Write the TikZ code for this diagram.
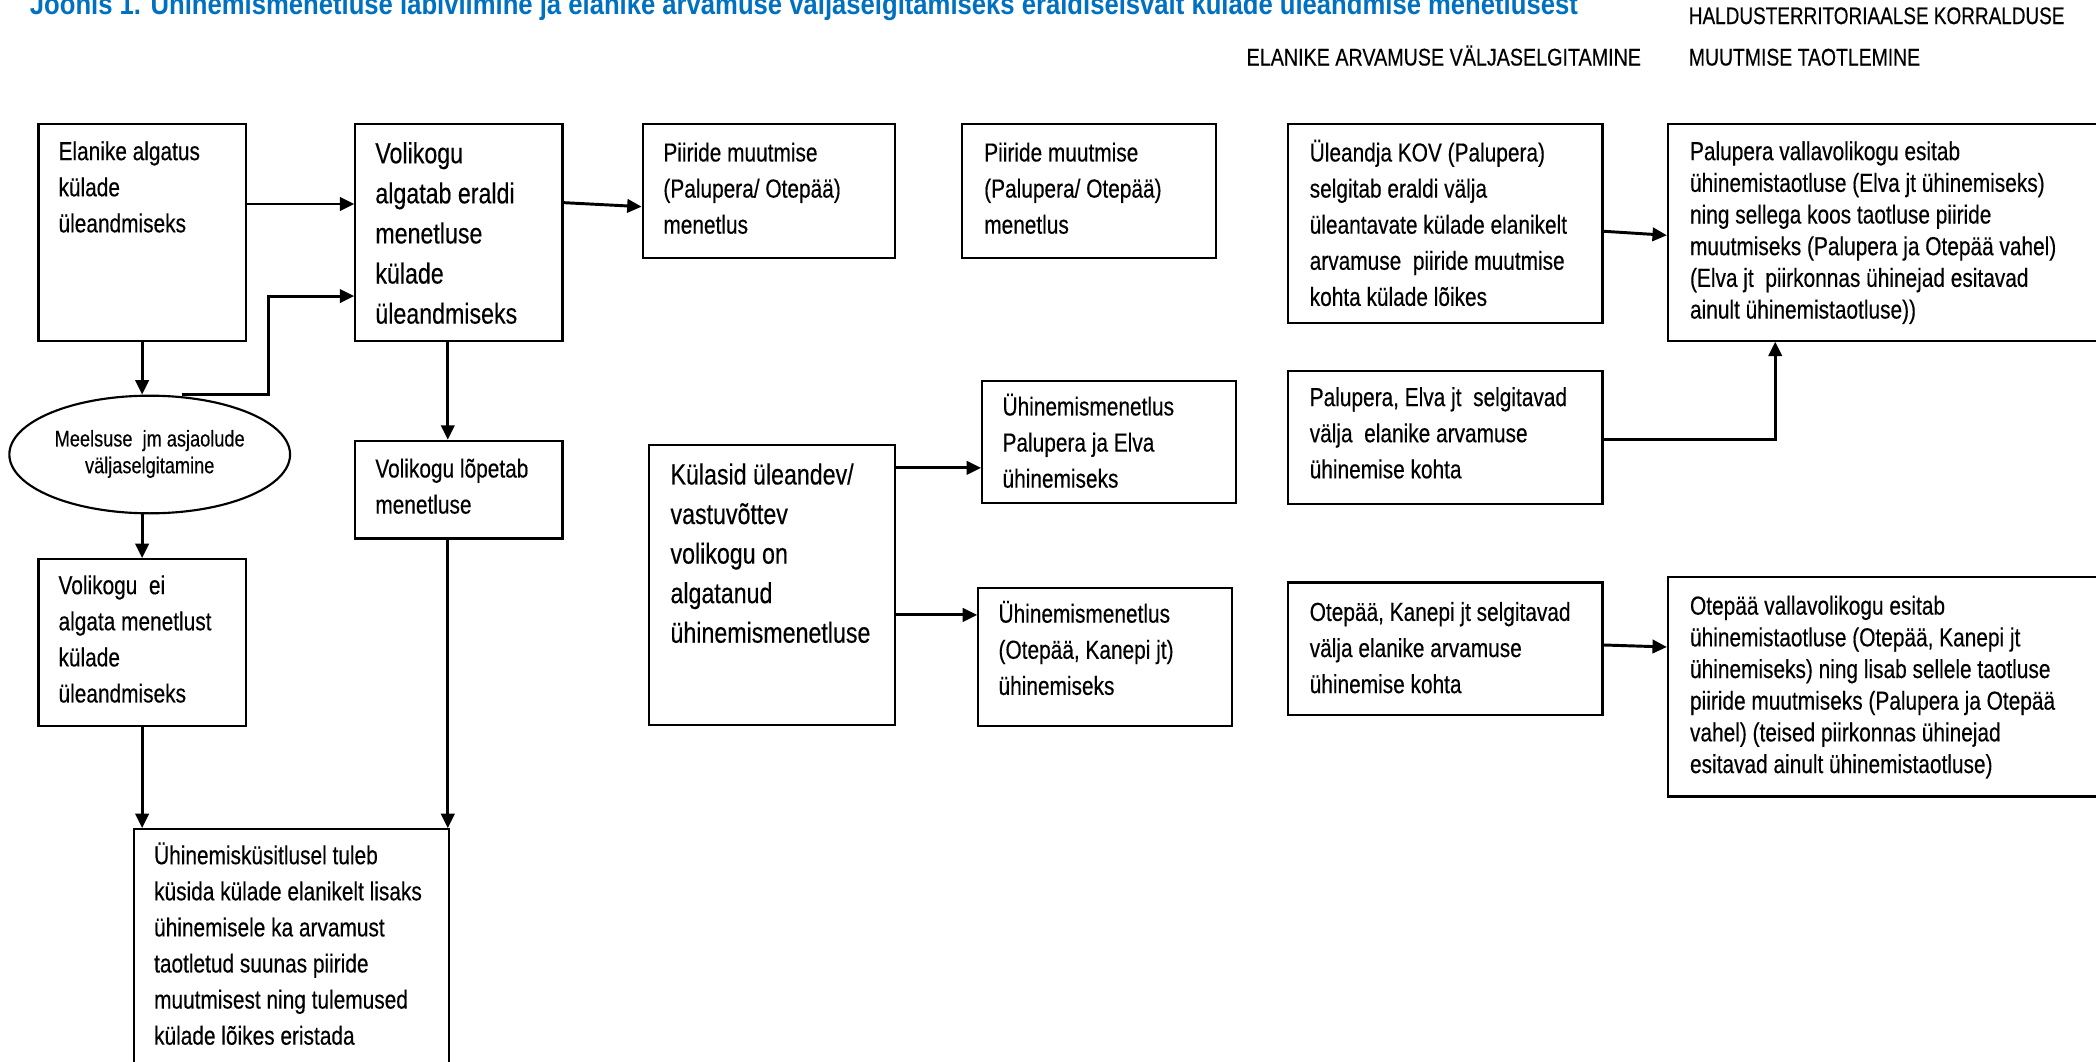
\documentclass[tikz,border=0pt]{standalone}
\usepackage{fontspec}
\setmainfont{Liberation Sans}[FakeStretch=0.8]
\newfontfamily\boxfont{Liberation Sans}[FakeStretch=0.8,FakeBold=0.35]
\usetikzlibrary{arrows.meta,calc,shapes.geometric}
\definecolor{titleblue}{RGB}{0,112,192}
\newdimen\pxu \pxu=0.5pt
\newcommand\fn{\boxfont\fontsize{9.75}{13.5}\selectfont}
\newcommand\fnb{\boxfont\fontsize{10.85}{15}\selectfont}
\newcommand\fnj{\boxfont\fontsize{10.85}{14.8}\selectfont}
\newcommand\fns{\boxfont\fontsize{9.75}{11.85}\selectfont}
\newcommand\fne{\boxfont\fontsize{8.5}{10}\selectfont}
\newcommand\fnh{\boxfont\fontsize{9}{10}\selectfont}
\newcommand\boxtext[6]{\parbox[c][#2\pxu][t]{#1\pxu}{\hspace*{#3\pxu}\rule{0pt}{#4\pxu}#5\begin{tabular}[t]{@{}l@{}}#6\end{tabular}}}
\newcommand\bx[9]{\node[box] (#1) at (#2,#3) {\boxtext{#4}{#5}{#6}{#7}{#8}{#9}};}
\tikzset{
  box/.style={draw, line width=0.8pt, inner sep=0pt, anchor=north west},
  ellbox/.style={ellipse, draw, line width=0.8pt, inner sep=0pt},
  arr/.style={line width=1.1pt, -{Triangle[length=5.4pt,width=5pt]}},
  hdr/.style={inner sep=0pt, font=\fnh}
}
\begin{document}
\begin{tikzpicture}[x=0.5pt,y=-0.5pt]
\useasboundingbox (0,0) rectangle (1568,794);
\clip (0,0) rectangle (1568,794);
% title and headers
\node[inner sep=0pt, anchor=base west, text=titleblue] (title) at (22,10.5)
  {\resizebox{579pt}{\height}{\fontsize{11}{12}\selectfont\bfseries Joonis 1. Ühinemismenetluse läbiviimine ja elanike arvamuse väljaselgitamiseks eraldiseisvalt külade üleandmise menetlusest}};
\node[hdr, anchor=base west] (h1) at (1263,18) {\resizebox{140.5pt}{\height}{HALDUSTERRITORIAALSE KORRALDUSE}};
\node[hdr, anchor=base west] (h2) at (1263,49) {\resizebox{86.5pt}{\height}{MUUTMISE TAOTLEMINE}};
\node[hdr, anchor=base east] (h3) at (1228,49) {\resizebox{147.5pt}{\height}{ELANIKE ARVAMUSE VÄLJASELGITAMINE}};
% boxes
\bx{A}{28}{92}{155}{162}{15}{27}{\fn}{Elanike algatus\\külade\\üleandmiseks}
\bx{B}{265}{92}{155}{162}{15}{29.3}{\fnb}{Volikogu\\algatab eraldi\\menetluse\\külade\\üleandmiseks}
\bx{C}{480}{92}{189}{100}{15.5}{28}{\fn}{Piiride muutmise\\(Palupera/ Otepää)\\menetlus}
\bx{D}{719}{92}{190}{100}{16.5}{28}{\fn}{Piiride muutmise\\(Palupera/ Otepää)\\menetlus}
\bx{E}{963}{92}{235}{149}{16}{28}{\fn}{Üleandja KOV (Palupera)\\selgitab eraldi välja\\üleantavate külade elanikelt\\arvamuse~~piiride muutmise\\kohta külade lõikes}
\bx{F}{1247}{92}{400}{162}{16.5}{27}{\fns}{Palupera vallavolikogu esitab\\ühinemistaotluse (Elva jt ühinemiseks)\\ning sellega koos taotluse piiride\\muutmiseks (Palupera ja Otepää vahel)\\(Elva jt~~piirkonnas ühinejad esitavad\\ainult ühinemistaotluse))}
\node[ellbox, minimum width=210\pxu, minimum height=88\pxu] (ell) at (112,340)
  {\fne\begin{tabular}{@{}c@{}}Meelsuse~~jm asjaolude\\väljaselgitamine\end{tabular}};
\bx{G}{265}{329}{155}{73}{15}{27.4}{\fn}{Volikogu lõpetab\\menetluse}
\bx{H}{28}{417.5}{155}{124.5}{15}{26.2}{\fn}{Volikogu~~ei\\algata menetlust\\külade\\üleandmiseks}
\bx{I}{99.5}{619.5}{235.5}{250}{15}{26.2}{\fn}{Ühinemisküsitlusel tuleb\\küsida külade elanikelt lisaks\\ühinemisele ka arvamust\\taotletud suunas piiride\\muutmisest ning tulemused\\külade lõikes eristada}
\bx{J}{485}{332}{184}{209.5}{15.8}{29.6}{\fnj}{Külasid üleandev/\\vastuvõttev\\volikogu on\\algatanud\\ühinemismenetluse}
\bx{K}{734}{284}{190}{91.5}{15.2}{26}{\fn}{Ühinemismenetlus\\Palupera ja Elva\\ühinemiseks}
\bx{L}{731}{439}{190}{103}{15.2}{26}{\fn}{Ühinemismenetlus\\(Otepää, Kanepi jt)\\ühinemiseks}
\bx{M}{963}{277}{235}{99}{16}{26}{\fn}{Palupera, Elva jt~~selgitavad\\välja~~elanike arvamuse\\ühinemise kohta}
\bx{N}{963}{435}{235}{99}{16}{28.7}{\fn}{Otepää, Kanepi jt selgitavad\\välja elanike arvamuse\\ühinemise kohta}
\bx{O}{1247}{431}{400}{164}{16.5}{28}{\fns}{Otepää vallavolikogu esitab\\ühinemistaotluse (Otepää, Kanepi jt\\ühinemiseks) ning lisab sellele taotluse\\piiride muutmiseks (Palupera ja Otepää\\vahel) (teised piirkonnas ühinejad\\esitavad ainult ühinemistaotluse)}
% connectors
\draw[arr] (A.east |- 0,152.6) -- (B.west |- 0,152.6);
\draw[arr] (A.south) -- (A.south |- ell.north);
\draw[arr] ($(ell.north)+(24,0)$) -| ($(B.west |- 0,221.5)+(-64,0)$) -- (B.west |- 0,221.5);
\draw[arr] (ell.south -| H.north) -- (H.north);
\draw[arr] (H.south) -- (H.south |- I.north);
\draw[arr] (B.south -| 335,0) -- (G.north -| 335,0);
\draw[arr] (G.south -| 335,0) -- (I.north -| 335,0);
\draw[arr] (B.east |- 0,151.6) -- (C.west |- 0,154.6);
\draw[arr] (J.east |- 0,350) -- (K.west |- 0,350);
\draw[arr] (J.east |- 0,460) -- (L.west |- 0,460);
\draw[arr] (E.east |- 0,173) -- (F.west |- 0,176);
\draw[arr] (M.east |- 0,329) -| ($(F.south west)+(81,0)$);
\draw[arr] (N.east |- 0,482.5) -- (O.west |- 0,484);
\end{tikzpicture}
\end{document}
